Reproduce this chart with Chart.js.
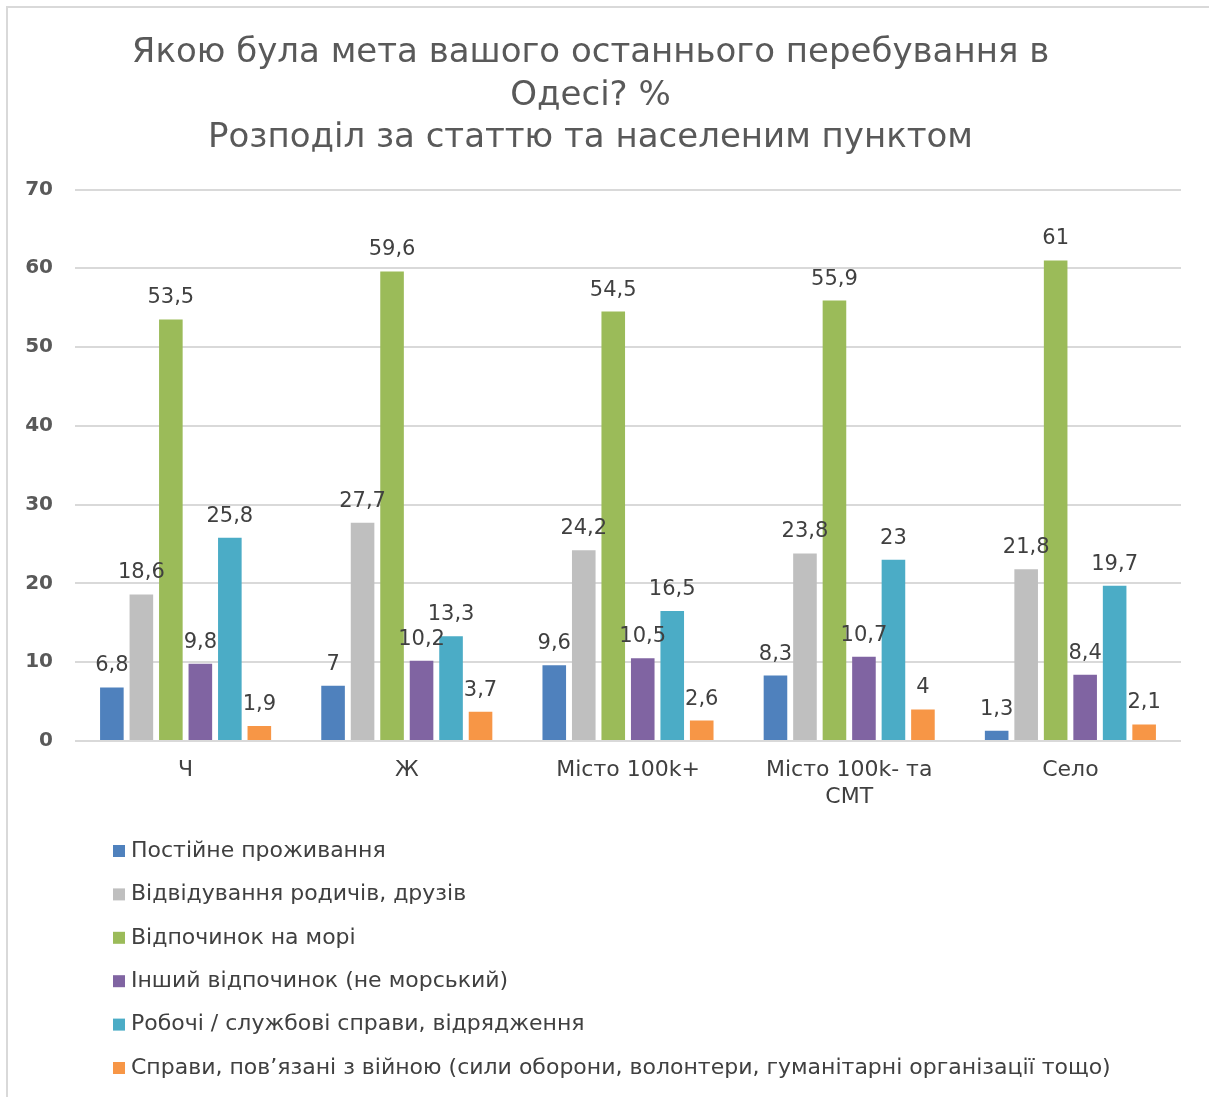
<!DOCTYPE html>
<html lang="uk">
<head>
<meta charset="utf-8">
<title>Мета перебування в Одесі</title>
<script src="https://cdn.jsdelivr.net/npm/chart.js@4.4.1/dist/chart.umd.min.js"></script>
<style>
  html, body { margin: 0; padding: 0; background: #fff; }
  #wrap { position: relative; width: 1209px; height: 1097px; }
</style>
</head>
<body>
<div id="wrap"><canvas id="chart" width="1209" height="1097"></canvas></div>
<script>
// дані з діаграми (%)
const categories = ['Ч', 'Ж', 'Місто 100k+', ['Місто 100k- та', 'СМТ'], 'Село'];
const seriesNames = [
  'Постійне проживання',
  'Відвідування родичів, друзів',
  'Відпочинок на морі',
  'Інший відпочинок (не морський)',
  'Робочі / службові справи, відрядження',
  'Справи, пов’язані з війною (сили оборони, волонтери, гуманітарні організації тощо)'
];
const permanent = [6.8, 7, 9.6, 8.3, 1.3];
const relatives = [18.6, 27.7, 24.2, 23.8, 21.8];
const seaRest = [53.5, 59.6, 54.5, 55.9, 61];
const otherRest = [9.8, 10.2, 10.5, 10.7, 8.4];
const business = [25.8, 13.3, 16.5, 23, 19.7];
const warRelated = [1.9, 3.7, 2.6, 4, 2.1];
const yTicks = [0, 10, 20, 30, 40, 50, 60, 70];

const colors = ['#4f81bd', '#bfbfbf', '#9bbb59', '#8064a2', '#4bacc6', '#f79646'];
const FONT = "'DejaVu Sans', 'Open Sans', sans-serif";

const seriesValues = [permanent, relatives, seaRest, otherRest, business, warRelated];

// підписи значень над стовпчиками
const valueLabels = {
  id: 'valueLabels',
  afterDatasetsDraw(chart) {
    const ctx = chart.ctx;
    ctx.save();
    ctx.font = '21px ' + FONT;
    ctx.fillStyle = '#404040';
    ctx.textAlign = 'center';
    ctx.textBaseline = 'alphabetic';
    chart.data.datasets.forEach((ds, i) => {
      chart.getDatasetMeta(i).data.forEach((bar, j) => {
        const txt = String(ds.data[j]).replace('.', ',');
        ctx.fillText(txt, bar.x, bar.y - 16);
      });
    });
    ctx.restore();
  }
};

// рамка та вертикальна легенда
const frameAndLegend = {
  id: 'frameAndLegend',
  beforeDraw(chart) {
    const ctx = chart.ctx;
    ctx.save();
    ctx.fillStyle = '#d9d9d9';
    ctx.fillRect(6, 6, chart.width - 6, 2);
    ctx.fillRect(6, 6, 2, chart.height - 6);
    ctx.restore();
  },
  afterDraw(chart) {
    const ctx = chart.ctx;
    ctx.save();
    ctx.font = '22px ' + FONT;
    ctx.textBaseline = 'middle';
    ctx.textAlign = 'left';
    chart.data.datasets.forEach((ds, i) => {
      const y = 851 + i * 43.4;
      ctx.fillStyle = ds.backgroundColor;
      ctx.fillRect(113, y - 6, 12, 12);
      ctx.fillStyle = '#404040';
      ctx.fillText(ds.label, 131, y);
    });
    ctx.restore();
  }
};

const ctx = document.getElementById('chart').getContext('2d');
new Chart(ctx, {
  type: 'bar',
  data: {
    labels: categories,
    datasets: seriesNames.map((name, i) => ({
      label: name,
      data: seriesValues[i],
      backgroundColor: colors[i],
      borderWidth: 0,
      barPercentage: 0.8,
      categoryPercentage: 0.8
    }))
  },
  options: {
    responsive: false,
    animation: false,
    devicePixelRatio: 1,
    layout: { padding: { left: 0, right: 28, top: 0, bottom: 276 } },
    plugins: {
      legend: { display: false },
      tooltip: { enabled: false },
      title: {
        display: true,
        text: ['Якою була мета вашого останнього перебування в', 'Одесі? %', 'Розподіл за статтю та населеним пунктом'],
        color: '#595959',
        font: { family: FONT, size: 34, weight: 'normal', lineHeight: 1.25 },
        padding: { top: 32, bottom: 30 }
      }
    },
    scales: {
      x: {
        grid: { display: false, drawTicks: false },
        border: { display: false },
        ticks: {
          color: '#404040',
          font: { family: FONT, size: 22, lineHeight: 1.22 },
          padding: 16,
          maxRotation: 0
        },
        afterFit(scale) { scale.height = 80; }
      },
      y: {
        min: 0,
        max: 70,
        afterBuildTicks(scale) { scale.ticks = yTicks.map(v => ({ value: v })); },
        grid: { color: '#d9d9d9', lineWidth: 2, drawTicks: false },
        border: { display: false },
        ticks: {
          color: '#595959',
          font: { family: FONT, size: 20, weight: 'bold' },
          padding: 22
        },
        afterFit(scale) { scale.width = 75; }
      }
    }
  },
  plugins: [valueLabels, frameAndLegend]
});
</script>
</body>
</html>
